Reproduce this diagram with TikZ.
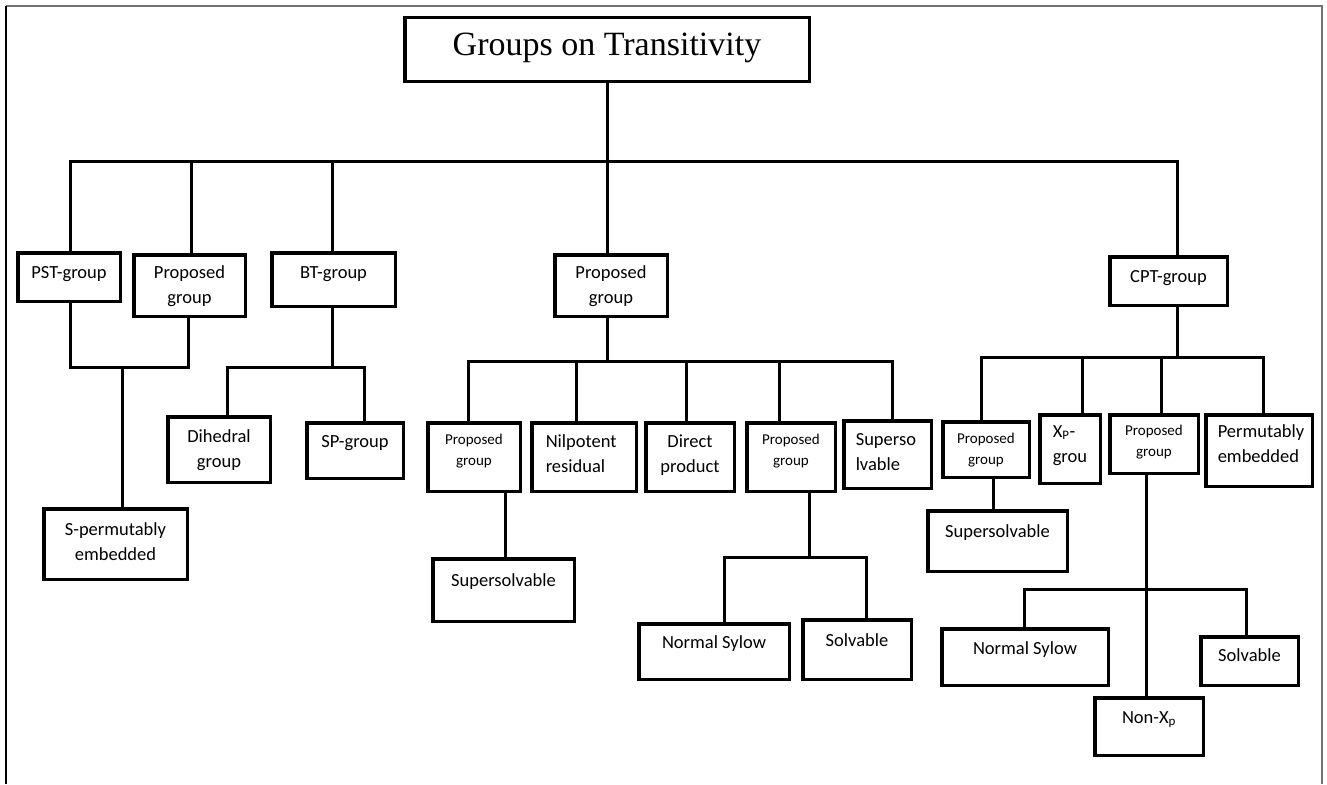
\documentclass[tikz,border=0pt]{standalone}
\usepackage{fontspec}
\setmainfont{Carlito}
\newfontfamily\titlefont{Liberation Serif}
\tikzset{
  box/.style={draw, line width=3.5pt, inner sep=0pt, outer sep=0pt},
  conn/.style={line width=3pt, line cap=rect},
  frameline/.style={line width=1.5pt}
}
\newcommand\nf{\fontsize{18.5}{25}\selectfont}
\newcommand\smf{\fontsize{15}{21.5}\selectfont}
\newcommand\lft[1]{\raggedright\leftskip=#1pt\relax}
% name, x1, y1, x2, y2, baseline offset, font, alignment, text
\newcommand\bx[9]{\node[box,anchor=north west] (#1) at (#2+1.75,#3+1.75)
  {\parbox[t][\dimexpr #5pt-#3pt-3.5pt\relax][t]{\dimexpr #4pt-#2pt-3.5pt\relax}{#7#8\rule{0pt}{\dimexpr #6pt-1.75pt\relax}#9}};}
\begin{document}
\begin{tikzpicture}[x=1pt,y=-1pt]
\useasboundingbox (0,0) rectangle (1327,784);
% frame
\draw[frameline, black!55] (6,6) -- (1322,6) -- (1322,784);
\draw[frameline, black] (6,6) -- (6,784);

% title
\bx{title}{403}{16}{811}{83}{40}{\titlefont\fontsize{34}{40}\selectfont}{\centering}{Groups on Transitivity}

% level 1
\bx{pst}{16}{251}{122}{303}{27}{\nf}{\centering}{PST-group}
\bx{propL}{132}{253}{247}{318}{25}{\nf}{\centering}{Proposed\\group}
\bx{bt}{270}{251}{397}{308}{27}{\nf}{\centering}{BT-group}
\bx{propC}{553}{253}{669}{318}{25}{\nf}{\centering}{Proposed\\group}
\bx{cpt}{1108}{255}{1229}{307}{27}{\nf}{\centering}{CPT-group}

% left branch
\bx{sperm}{42}{507}{189}{581}{28}{\nf}{\centering}{S-permutably\\embedded}
\bx{dihedral}{166}{415}{272}{484}{27}{\nf}{\centering}{Dihedral\\group}
\bx{sp}{305}{421}{405}{480}{26}{\nf}{\centering}{SP-group}

% centre branch
\bx{pc1}{426}{421}{522}{493}{23}{\smf}{\centering}{Proposed\\group}
\bx{nil}{530}{421}{638}{493}{26}{\nf}{\lft{14}}{Nilpotent\\residual}
\bx{direct}{644}{421}{736}{493}{26}{\nf}{\centering}{Direct\\product}
\bx{pc2}{745}{421}{837}{493}{23}{\smf}{\centering}{Proposed\\group}
\bx{sup}{842}{419}{933}{490}{26}{\nf}{\lft{12}}{Superso\\lvable}
\bx{super1}{431}{557}{576}{623}{29}{\nf}{\centering}{Supersolvable}
\bx{ns1}{637}{622}{791}{681}{26}{\nf}{\centering}{Normal Sylow}
\bx{solv1}{801}{618}{913}{681}{28}{\nf}{\centering}{Solvable}

% right branch
\bx{cp1}{941}{420}{1031}{479}{23}{\smf}{\centering}{Proposed\\group}
\bx{xp}{1038}{413}{1102}{485}{24}{\nf}{\lft{13}}{X\textsubscript{P}-\\grou}
\bx{cp2}{1108}{413}{1200}{475}{22}{\smf}{\centering}{Proposed\\group}
\bx{perm}{1204}{413}{1314}{488}{24}{\nf}{\lft{12}}{Permutably\\embedded}
\bx{super2}{926}{509}{1069}{573}{28}{\nf}{\centering}{Supersolvable}
\bx{ns2}{940}{627}{1110}{687}{27}{\nf}{\centering}{Normal Sylow}
\bx{solv2}{1199}{635}{1300}{687}{26}{\nf}{\centering}{Solvable}
\bx{nonxp}{1093}{696}{1205}{757}{27}{\nf}{\centering}{Non-X\textsubscript{p}}

% main bar
\coordinate (j0) at (607,161);
\coordinate (j0a) at (70,161);
\coordinate (j0b) at (191,161);
\coordinate (j0c) at (332,161);
\coordinate (j0e) at (1177,161);
\draw[conn] (title.south -| j0) -- (j0);
\draw[conn] (pst.north -| j0a) -- (j0a) -- (j0e) -- (cpt.north -| j0e);
\draw[conn] (j0b) -- (propL.north -| j0b);
\draw[conn] (j0c) -- (bt.north -| j0c);
\draw[conn] (j0) -- (propC.north -| j0);

% PST / proposed -> S-permutably
\coordinate (k1) at (70,367);
\coordinate (k2) at (122,367);
\coordinate (k3) at (188,367);
\draw[conn] (pst.south -| k1) -- (k1) -- (k3) -- (propL.south -| k3);
\draw[conn] (k2) -- (sperm.north -| k2);

% BT-group
\coordinate (m0) at (332,367);
\coordinate (m1) at (227,367);
\coordinate (m2) at (364,367);
\draw[conn] (bt.south -| m0) -- (m0);
\draw[conn] (dihedral.north -| m1) -- (m1) -- (m2) -- (sp.north -| m2);

% centre proposed group
\coordinate (n0) at (607,361);
\coordinate (n1) at (468,361);
\coordinate (n2) at (576,361);
\coordinate (n3) at (686,361);
\coordinate (n4) at (779,361);
\coordinate (n5) at (892,361);
\draw[conn] (propC.south -| n0) -- (n0);
\draw[conn] (pc1.north -| n1) -- (n1) -- (n5) -- (sup.north -| n5);
\draw[conn] (n2) -- (nil.north -| n2);
\draw[conn] (n3) -- (direct.north -| n3);
\draw[conn] (n4) -- (pc2.north -| n4);

\coordinate (o1) at (505,520);
\draw[conn] (pc1.south -| o1) -- (super1.north -| o1);

\coordinate (p0) at (809,557);
\coordinate (p1) at (724,557);
\coordinate (p2) at (866,557);
\draw[conn] (pc2.south -| p0) -- (p0);
\draw[conn] (ns1.north -| p1) -- (p1) -- (p2) -- (solv1.north -| p2);

% CPT-group
\coordinate (q0) at (1177,357);
\coordinate (q1) at (981,357);
\coordinate (q2) at (1082,357);
\coordinate (q3) at (1161,357);
\coordinate (q4) at (1263,357);
\draw[conn] (cpt.south -| q0) -- (q0);
\draw[conn] (cp1.north -| q1) -- (q1) -- (q4) -- (perm.north -| q4);
\draw[conn] (q2) -- (xp.north -| q2);
\draw[conn] (q3) -- (cp2.north -| q3);

\coordinate (r0) at (993,495);
\draw[conn] (cp1.south -| r0) -- (super2.north -| r0);

\coordinate (s0) at (1146,589);
\coordinate (s1) at (1024,589);
\coordinate (s2) at (1246,589);
\draw[conn] (cp2.south -| s0) -- (nonxp.north -| s0);
\draw[conn] (ns2.north -| s1) -- (s1) -- (s2) -- (solv2.north -| s2);
\end{tikzpicture}
\end{document}
